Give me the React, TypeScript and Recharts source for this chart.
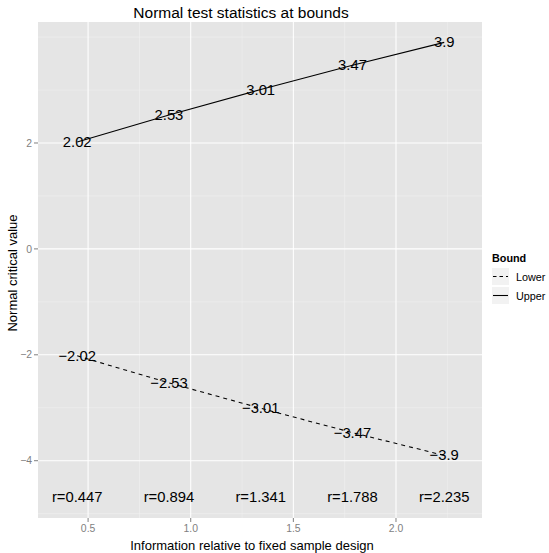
import React from "react";
import {
  ComposedChart,
  Line,
  Scatter,
  XAxis,
  YAxis,
  CartesianGrid,
  ReferenceLine,
  LabelList,
  Legend,
} from "recharts";

// Information fractions at each analysis and the corresponding bounds
const infoRatio = [0.447, 0.894, 1.341, 1.788, 2.235];
const upperBound = [2.02, 2.53, 3.01, 3.47, 3.9];
const lowerBound = [-2.02, -2.53, -3.01, -3.47, -3.9];
const ratioTextLevel = -4.68;

const xMajor = [0.5, 1.0, 1.5, 2.0];
const xMinor = [0.75, 1.25, 1.75, 2.25];
const yMajor = [-4, -2, 0, 2];
const yMinor = [-5, -3, -1, 1, 3, 4];

const xDomain: [number, number] = [0.256, 2.419];
const yDomain: [number, number] = [-5.082, 4.285];

const FONT = '"Liberation Sans", Arial, Helvetica, sans-serif';
const TEXT_SIZE = 14.8;
const TICK_SIZE = 10.4;
const AXIS_TITLE_SIZE = 13;

const fmt = (v: number) => String(v).replace("-", "\u2212");

const upperData = infoRatio.map((x, i) => ({ x, y: upperBound[i] }));
const lowerData = infoRatio.map((x, i) => ({ x, y: lowerBound[i] }));
const ratioData = infoRatio.map((x) => ({ x, y: ratioTextLevel, text: `r=${x}` }));

const valueLabel = (props: any) => {
  const { x, y, value } = props;
  return (
    <text
      x={x}
      y={y}
      textAnchor="middle"
      dominantBaseline="central"
      fontFamily={FONT}
      fontSize={TEXT_SIZE}
      fill="#000"
    >
      {fmt(value)}
    </text>
  );
};

const ratioShape = (props: any) => {
  const { cx, cy, payload } = props;
  return (
    <text
      x={cx}
      y={cy}
      textAnchor="middle"
      dominantBaseline="central"
      fontFamily={FONT}
      fontSize={TEXT_SIZE}
      fill="#000"
    >
      {payload.text}
    </text>
  );
};

const legendContent = () => (
  <div style={{ fontFamily: FONT, position: "relative", width: 59, height: 62 }}>
    <div style={{ position: "absolute", left: 2, top: 3, fontSize: 10.8, fontWeight: "bold", lineHeight: "13px" }}>
      Bound
    </div>
    <svg width={20} height={40} style={{ position: "absolute", left: 1, top: 18 }}>
      <rect x={0.5} y={0.5} width={18} height={18} fill="#f2f2f2" stroke="#fff" />
      <line x1={2} x2={17} y1={9.5} y2={9.5} stroke="#000" strokeWidth={1.07} strokeDasharray="3.5 3" />
      <rect x={0.5} y={19.5} width={18} height={18} fill="#f2f2f2" stroke="#fff" />
      <line x1={2} x2={17} y1={28.5} y2={28.5} stroke="#000" strokeWidth={1.07} />
    </svg>
    <div style={{ position: "absolute", left: 26, top: 21.5, fontSize: 10.8, lineHeight: "13px" }}>Lower</div>
    <div style={{ position: "absolute", left: 26, top: 41, fontSize: 10.8, lineHeight: "13px" }}>Upper</div>
  </div>
);

export default function App() {
  return (
    <div style={{ position: "fixed", left: 0, top: 0, width: 549, height: 553, background: "#fff" }}>
      <div
        style={{
          position: "absolute",
          left: 0,
          top: 4,
          width: 482,
          textAlign: "center",
          fontFamily: FONT,
          fontSize: 15.5,
          lineHeight: "18px",
          color: "#000",
        }}
      >
        Normal test statistics at bounds
      </div>
      <ComposedChart
        width={549}
        height={553}
        margin={{ top: 22, right: 67, bottom: 0, left: 0 }}
        style={{ position: "absolute", left: 0, top: 0 }}
      >
        <CartesianGrid fill="#e5e5e5" horizontal={false} vertical={false} />
        {yMinor.map((v) => (
          <ReferenceLine key={`ym${v}`} y={v} stroke="#f2f2f2" strokeWidth={0.55} />
        ))}
        {xMinor.map((v) => (
          <ReferenceLine key={`xm${v}`} x={v} stroke="#f2f2f2" strokeWidth={0.55} />
        ))}
        {yMajor.map((v) => (
          <ReferenceLine key={`yM${v}`} y={v} stroke="#fff" strokeWidth={1.07} />
        ))}
        {xMajor.map((v) => (
          <ReferenceLine key={`xM${v}`} x={v} stroke="#fff" strokeWidth={1.07} />
        ))}
        <XAxis
          type="number"
          dataKey="x"
          domain={xDomain}
          allowDataOverflow
          ticks={xMajor}
          tickFormatter={(v: number) => v.toFixed(1)}
          height={35}
          axisLine={false}
          tickSize={4}
          tickMargin={3}
          tickLine={{ stroke: "#7f7f7f", strokeWidth: 1 }}
          tick={{ fill: "#7f7f7f", fontSize: TICK_SIZE, fontFamily: FONT }}
          label={{
            content: (p: any) => {
              const vb = p.viewBox || { x: 38, y: 518, width: 444, height: 35 };
              const cx = vb.x + vb.width / 2 - 8;
              const cy = vb.y + 27.5;
              return (
                <text
                  x={cx}
                  y={cy}
                  textAnchor="middle"
                  dominantBaseline="central"
                  fontFamily={FONT}
                  fontSize={AXIS_TITLE_SIZE}
                  fill="#000"
                >
                  Information relative to fixed sample design
                </text>
              );
            },
          }}
        />
        <YAxis
          type="number"
          dataKey="y"
          domain={yDomain}
          allowDataOverflow
          ticks={yMajor}
          tickFormatter={(v: number) => fmt(v)}
          width={38}
          axisLine={false}
          tickSize={4}
          tickMargin={2}
          tickLine={{ stroke: "#7f7f7f", strokeWidth: 1 }}
          tick={{ fill: "#7f7f7f", fontSize: TICK_SIZE, fontFamily: FONT }}
          label={{
            content: (p: any) => {
              const vb = p.viewBox || { x: 0, y: 22, width: 38, height: 496 };
              const cx = 12;
              const cy = vb.y + vb.height / 2 + 3;
              return (
                <text
                  x={cx}
                  y={cy}
                  transform={`rotate(-90 ${cx} ${cy})`}
                  textAnchor="middle"
                  dominantBaseline="central"
                  fontFamily={FONT}
                  fontSize={AXIS_TITLE_SIZE}
                  fill="#000"
                >
                  Normal critical value
                </text>
              );
            },
          }}
        />
        <Line
          data={lowerData}
          dataKey="y"
          name="Lower"
          stroke="#000"
          strokeWidth={1.07}
          strokeDasharray="4 4"
          dot={false}
          activeDot={false}
          isAnimationActive={false}
        >
          <LabelList dataKey="y" content={valueLabel} />
        </Line>
        <Line
          data={upperData}
          dataKey="y"
          name="Upper"
          stroke="#000"
          strokeWidth={1.07}
          dot={false}
          activeDot={false}
          isAnimationActive={false}
        >
          <LabelList dataKey="y" content={valueLabel} />
        </Line>
        <Scatter data={ratioData} dataKey="y" shape={ratioShape} isAnimationActive={false} legendType="none" />
        <Legend
          layout="horizontal"
          verticalAlign="middle"
          align="center"
          content={legendContent}
          wrapperStyle={{ position: "absolute", left: 490, top: 249, width: 59, height: 62 }}
        />
      </ComposedChart>
    </div>
  );
}
